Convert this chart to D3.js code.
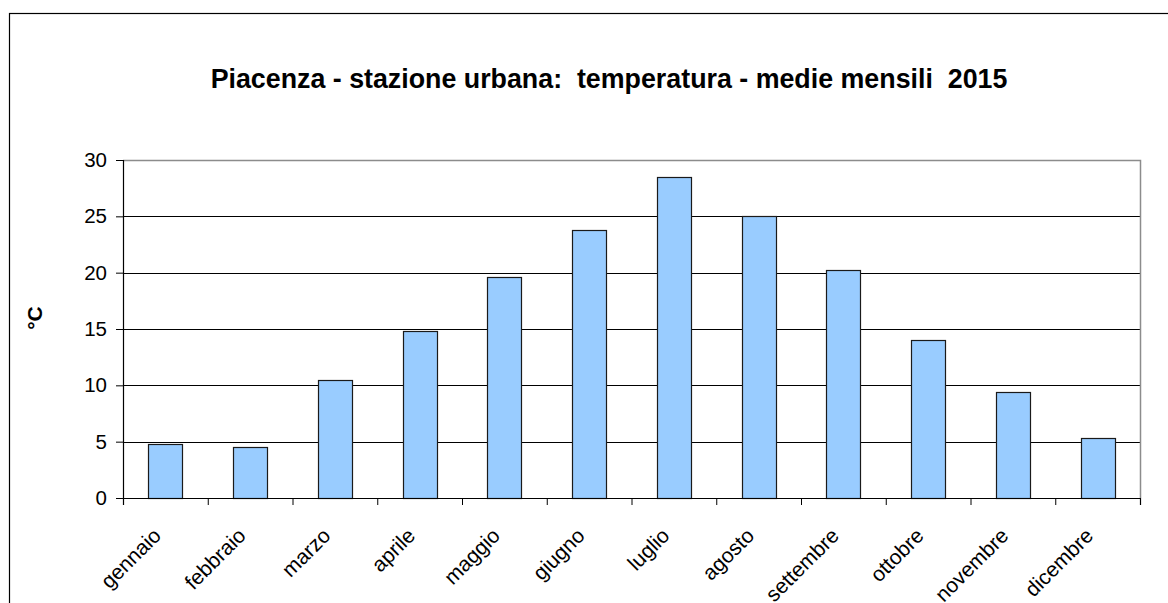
<!DOCTYPE html>
<html>
<head>
<meta charset="utf-8">
<script src="https://cdn.jsdelivr.net/npm/d3@7"></script>
<style>
  body { margin: 0; background: #fff; }
  svg { display: block; font-family: "Liberation Sans", Arial, sans-serif; }
  .title { white-space: pre; }
</style>
</head>
<body>
<svg width="1168" height="603"></svg>
<script>
const months = ["gennaio", "febbraio", "marzo", "aprile", "maggio", "giugno",
  "luglio", "agosto", "settembre", "ottobre", "novembre", "dicembre"];
const temps = [4.8, 4.5, 10.5, 14.8, 19.6, 23.8, 28.5, 25.0, 20.2, 14.0, 9.4, 5.3];
const yTicks = [0, 5, 10, 15, 20, 25, 30];
const title = "Piacenza - stazione urbana:  temperatura - medie mensili  2015";
const yLabel = "°C";

const svg = d3.select("svg");
const plot = { left: 123, right: 1140, top: 160, bottom: 498 };

// outer chart frame (runs off the right and bottom edges)
svg.append("rect")
  .attr("x", 9.5).attr("y", 13.5)
  .attr("width", 1300).attr("height", 800)
  .attr("fill", "#fff").attr("stroke", "#000").attr("stroke-width", 1.2);

const x = d3.scaleBand()
  .domain(months)
  .range([plot.left, plot.right])
  .paddingInner(0.6)
  .paddingOuter(0.3);

// boundaries between categories, for the tick marks
const xEdge = d3.scaleLinear().domain([0, months.length]).range([plot.left, plot.right]);

const y = d3.scaleLinear().domain([0, 30]).range([plot.bottom, plot.top]);

// gridlines
svg.append("g")
  .selectAll("line")
  .data(yTicks.filter(d => d > 0 && d < 30))
  .join("line")
  .attr("x1", plot.left).attr("x2", plot.right)
  .attr("y1", d => Math.round(y(d)) + 0.5).attr("y2", d => Math.round(y(d)) + 0.5)
  .attr("stroke", "#000").attr("stroke-width", 1);

// plot frame top and right (grey)
svg.append("path")
  .attr("d", `M${plot.left},${plot.top + 0.5}H${plot.right + 0.5}V${plot.bottom}`)
  .attr("fill", "none").attr("stroke", "#8c8c8c").attr("stroke-width", 1.5);

// bars
svg.append("g")
  .selectAll("rect")
  .data(temps)
  .join("rect")
  .attr("x", (d, i) => Math.round(x(months[i])) + 0.5)
  .attr("y", d => Math.round(y(d)) + 0.5)
  .attr("width", Math.round(x.bandwidth()))
  .attr("height", d => Math.round(y(0)) - Math.round(y(d)))
  .attr("fill", "#99ccff")
  .attr("stroke", "#1a1a1a")
  .attr("stroke-width", 1.2);

// y axis
const yAxis = svg.append("g")
  .attr("transform", `translate(${plot.left},0)`)
  .call(d3.axisLeft(y).tickValues(yTicks).tickSize(7).tickPadding(9).tickFormat(d3.format("d")));
yAxis.select(".domain").attr("stroke", "#000").attr("stroke-width", 1.2);
yAxis.selectAll(".tick line").attr("stroke", "#000");
yAxis.selectAll(".tick text")
  .attr("font-family", "Liberation Sans, Arial, sans-serif")
  .attr("font-size", 20.5).attr("fill", "#000");

// x axis: ticks on category boundaries
const xAxis = svg.append("g")
  .attr("transform", `translate(0,${plot.bottom})`)
  .call(d3.axisBottom(xEdge).tickValues(d3.range(months.length + 1)).tickSize(7).tickFormat(""));
xAxis.select(".domain").attr("stroke", "#000").attr("stroke-width", 1.2);
xAxis.selectAll(".tick line").attr("stroke", "#000");

// rotated month labels
svg.append("g")
  .selectAll("text")
  .data(months)
  .join("text")
  .attr("transform", d => `translate(${x(d) + x.bandwidth() / 2 - 3},${plot.bottom + 39}) rotate(-45)`)
  .attr("text-anchor", "end")
  .attr("font-size", 21)
  .attr("fill", "#000")
  .text(d => d);

// title
svg.append("text")
  .attr("class", "title")
  .attr("x", 609).attr("y", 88)
  .attr("text-anchor", "middle")
  .attr("font-size", 26.8)
  .attr("font-weight", "bold")
  .text(title);

// y axis label
svg.append("text")
  .attr("transform", "translate(42,318) rotate(-90)")
  .attr("text-anchor", "middle")
  .attr("font-size", 21)
  .attr("font-weight", "bold")
  .text(yLabel);
</script>
</body>
</html>
